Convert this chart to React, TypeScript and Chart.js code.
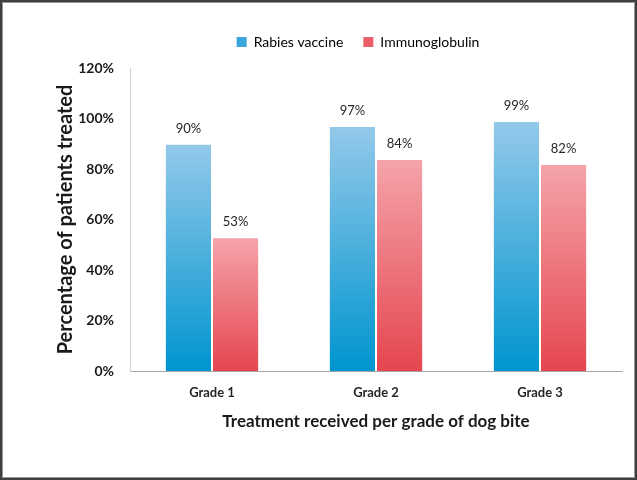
import React, { useEffect, useRef } from "react";
import { Chart, registerables } from "chart.js";

Chart.register(...registerables);

const grades = ["Grade 1", "Grade 2", "Grade 3"];
const rabiesVaccine = [90, 97, 99];
const immunoglobulin = [53, 84, 82];
const yTicks = [0, 20, 40, 60, 80, 100, 120];

const FONT = "Lato, 'Open Sans', sans-serif";

// vertical gradient per bar, light at the top and deep at the base
const barGradient = (top: string, bottom: string) => (ctx: any) => {
  const chart = ctx.chart;
  const { chartArea, scales } = chart;
  if (!chartArea || ctx.raw == null) return bottom;
  const yTop = scales.y.getPixelForValue(ctx.raw);
  const yBase = scales.y.getPixelForValue(0);
  const g = chart.ctx.createLinearGradient(0, yTop, 0, yBase);
  g.addColorStop(0, top);
  g.addColorStop(1, bottom);
  return g;
};

const valueLabels = {
  id: "valueLabels",
  afterDatasetsDraw(chart: any) {
    const { ctx } = chart;
    ctx.save();
    ctx.font = `13px ${FONT}`;
    ctx.fillStyle = "#262626";
    ctx.textAlign = "center";
    ctx.textBaseline = "middle";
    chart.data.datasets.forEach((ds: any, i: number) => {
      chart.getDatasetMeta(i).data.forEach((bar: any, j: number) => {
        ctx.fillText(ds.data[j] + "%", bar.x, bar.y - 15);
      });
    });
    ctx.restore();
  },
};

// extra room under the legend, and legend nudged right over the plot
const legendSpacing = {
  id: "legendSpacing",
  afterInit(chart: any) {
    const legend = chart.legend;
    if (!legend) return;
    const fit = legend.fit;
    legend.fit = function () {
      fit.call(this);
      this.height += 9;
    };
  },
  afterLayout(chart: any) {
    const legend = chart.legend;
    if (!legend) return;
    legend.left += 22;
    legend.right += 22;
  },
};

const frame = {
  id: "frame",
  afterDraw(chart: any) {
    const { ctx, width, height } = chart;
    ctx.save();
    ctx.strokeStyle = "#9a9a9a";
    ctx.lineWidth = 1;
    ctx.strokeRect(2.5, 2.5, width - 5, height - 5);
    ctx.strokeStyle = "#3f3f3f";
    ctx.lineWidth = 2;
    ctx.strokeRect(1, 1, width - 2, height - 2);
    ctx.restore();
  },
};

const App = () => {
  const chartRef: any = useRef(null);
  const chartInstance: any = useRef(null);

  useEffect(() => {
    document.body.style.margin = "0";
    if (chartRef.current) {
      const ctx = chartRef.current.getContext("2d");
      chartInstance.current = new Chart(ctx, {
        type: "bar",
        data: {
          labels: grades,
          datasets: [
            {
              label: "Rabies vaccine",
              data: rabiesVaccine,
              backgroundColor: barGradient("#94c9ea", "#0095cf"),
              borderColor: "rgba(255,255,255,0.6)",
              borderWidth: 1,
            },
            {
              label: "Immunoglobulin",
              data: immunoglobulin,
              backgroundColor: barGradient("#f5a4ab", "#e5464f"),
              borderColor: "rgba(255,255,255,0.6)",
              borderWidth: 1,
            },
          ],
        },
        options: {
          responsive: true,
          maintainAspectRatio: false,
          animation: false,
          datasets: {
            bar: { categoryPercentage: 0.575, barPercentage: 1 },
          },
          layout: { padding: { left: 50, right: 15, top: 15, bottom: 44 } },
          plugins: {
            tooltip: { enabled: false },
            legend: {
              position: "top",
              labels: {
                font: { family: FONT, size: 14 },
                color: "#262626",
                boxWidth: 10,
                boxHeight: 10,
                padding: 20,
                generateLabels: () => [
                  { text: "Rabies vaccine", fillStyle: "#3ba6dc", strokeStyle: "#3ba6dc", lineWidth: 0 },
                  { text: "Immunoglobulin", fillStyle: "#ea5f68", strokeStyle: "#ea5f68", lineWidth: 0 },
                ],
              },
            },
          },
          scales: {
            x: {
              grid: { display: false },
              border: { color: "#a6a6a6", width: 1 },
              ticks: { font: { family: FONT, size: 13, weight: "bold" }, color: "#262626", padding: 6 },
              title: {
                display: true,
                text: "Treatment received per grade of dog bite",
                font: { family: FONT, size: 17, weight: "bold" },
                color: "#1a1a1a",
                padding: { top: 4, bottom: 4 },
              },
              afterFit: (s: any) => {
                s.height = 65;
              },
            },
            y: {
              min: 0,
              max: 120,
              afterBuildTicks: (s: any) => {
                s.ticks = yTicks.map((v) => ({ value: v }));
              },
              grid: { display: false },
              border: { color: "#d0d0d0", width: 1 },
              ticks: {
                font: { family: FONT, size: 14, weight: "bold" },
                color: "#1a1a1a",
                padding: 8,
                callback: (v: any) => v + "%",
              },
              title: {
                display: true,
                text: "Percentage of patients treated",
                font: { family: FONT, size: 20, weight: "bold" },
                color: "#1a1a1a",
                padding: { top: 4, bottom: 4 },
              },
              afterFit: (s: any) => {
                s.width = 80;
              },
            },
          },
        },
        plugins: [legendSpacing, valueLabels, frame],
      });
    }

    return () => {
      if (chartInstance.current) {
        chartInstance.current.destroy();
      }
    };
  }, []);

  return (
    <div style={{ width: 637, height: 480, position: "relative", background: "#fff" }}>
      <canvas ref={chartRef}></canvas>
    </div>
  );
};

export default App;
